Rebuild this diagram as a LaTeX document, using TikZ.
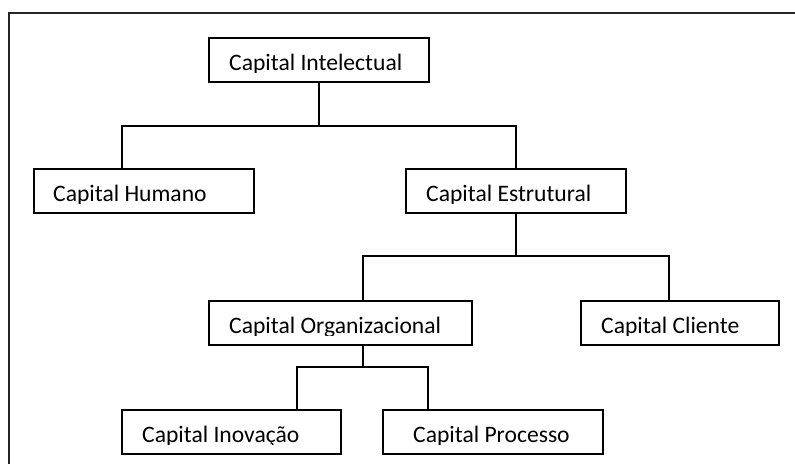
\documentclass[tikz,border=0pt]{standalone}
\usepackage{fontspec}
\setmainfont{Carlito}
\begin{document}
\begin{tikzpicture}[x=1pt,y=-1pt,
  box/.style={draw,line width=1.2pt,minimum height=44pt,minimum width=#1,anchor=north west,inner sep=0pt,outer sep=0pt},
  lbl/.style={anchor=base west,inner sep=0pt,font=\fontsize{23.6}{25}\selectfont},
  conn/.style={line width=1.2pt},
  frame/.style={line width=1.4pt,draw=black!85}]
\useasboundingbox (0,0) rectangle (795,464);
\draw[frame] (795,13) -- (9,13) -- (9,464);
% boxes
\node[box=220pt] (ci) at (209,38) {};
\node[box=220pt] (ch) at (34,169) {};
\node[box=220pt] (ce) at (406,169) {};
\node[box=263pt] (co) at (209,301) {};
\node[box=198pt] (cc) at (581,301) {};
\node[box=219pt] (cin) at (122,410) {};
\node[box=220pt] (cp) at (383,410) {};
% labels, cut just under the baseline
\begin{scope}\clip (209,38) rectangle (429,72);
\node[lbl] (tci) at (229,70.5) {Capital Intelectual};\end{scope}
\begin{scope}\clip (34,169) rectangle (254,203);
\node[lbl] (tch) at (53,201.5) {Capital Humano};\end{scope}
\begin{scope}\clip (406,169) rectangle (626,203);
\node[lbl] (tce) at (426,201.5) {Capital Estrutural};\end{scope}
\begin{scope}\clip (209,301) rectangle (472,335);
\node[lbl] (tco) at (229,333.5) {Capital Organizacional};\end{scope}
\begin{scope}\clip (581,301) rectangle (779,335);
\node[lbl] (tcc) at (601,333.5) {Capital Cliente};\end{scope}
\begin{scope}\clip (122,410) rectangle (341,444);
\node[lbl] (tcin) at (142,442.5) {Capital Inovação};\end{scope}
\begin{scope}\clip (383,410) rectangle (603,444);
\node[lbl] (tcp) at (413,442.5) {Capital Processo};\end{scope}
% connectors
\draw[conn] (ci.south) -- ++(0,44) coordinate (j1);
\draw[conn] ([xshift=88pt]ch.north west) |- (j1) -| (ce.north);
\draw[conn] (ce.south) -- ++(0,43) coordinate (j2);
\draw[conn] ([xshift=154pt]co.north west) |- (j2) -| ([xshift=88pt]cc.north west);
\draw[conn] ([xshift=154pt]co.south west) -- ++(0,22) coordinate (j3);
\draw[conn] ([xshift=175pt]cin.north west) |- (j3) -| ([xshift=45pt]cp.north west);
\end{tikzpicture}
\end{document}
